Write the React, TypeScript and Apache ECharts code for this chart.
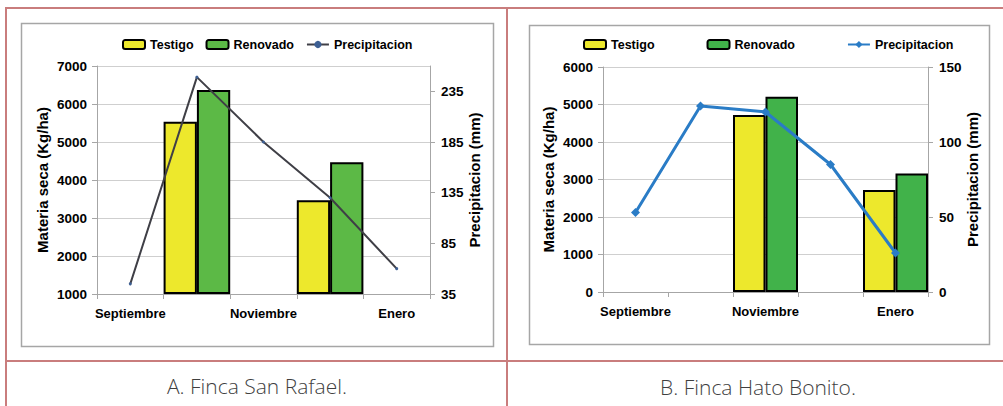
import { useEffect, useRef } from "react";
import * as echarts from "echarts";

// Months shown on both panels (labels appear on every other month)
const months = ["Septiembre", "Octubre", "Noviembre", "Diciembre", "Enero"];

// Panel A – Finca San Rafael
const rafaelTestigo = [null, 5530, null, 3470, null];
const rafaelRenovado = [null, 6370, null, 4470, null];
const rafaelPrecip = [45, 249, 185, 130, 60];
const rafaelPrecipTicks = [35, 85, 135, 185, 235];

// Panel B – Finca Hato Bonito
const bonitoTestigo = [null, null, 4720, null, 2720];
const bonitoRenovado = [null, null, 5210, null, 3160];
const bonitoPrecip = [53, 124, 120, 85, 26];

const captions = ["A. Finca San Rafael.", "B. Finca Hato Bonito."];

const FONT = "'Liberation Sans', Arial, sans-serif";
const YELLOW = "#ede82c";
const GREEN_A = "#5cb946";
const GREEN_B = "#41b24a";
const AXIS_GREY = "#a6a6a6";
const GRID_GREY = "#cfcfcf";
const TABLE_RED = "#c97d7d";

const tickLabel = { color: "#000", fontFamily: FONT, fontWeight: "bold" as const, fontSize: 13 };
const nameStyle = { color: "#000", fontFamily: FONT, fontWeight: "bold" as const, fontSize: 15 };
const plain = (v: number) => String(v);

function valueAxisLeft(grid: number, min: number, max: number) {
  return {
    type: "value",
    gridIndex: grid,
    min,
    max,
    interval: 1000,
    startValue: min,
    name: "Materia seca (Kg/ha)",
    nameLocation: "middle",
    nameRotate: 90,
    nameGap: 47,
    nameTextStyle: nameStyle,
    axisLine: { show: true, lineStyle: { color: AXIS_GREY, width: 1 } },
    axisTick: { show: true, inside: false, length: 5, lineStyle: { color: AXIS_GREY } },
    axisLabel: { ...tickLabel, fontSize: 13.5, margin: 10, formatter: plain },
    splitLine: { show: true, lineStyle: { color: GRID_GREY, width: 1 } },
  };
}

function categoryAxis(grid: number) {
  return {
    type: "category",
    gridIndex: grid,
    data: months,
    boundaryGap: true,
    axisLine: { show: true, lineStyle: { color: AXIS_GREY, width: 1 } },
    axisTick: { show: true, interval: 0, length: 5, alignWithLabel: false, lineStyle: { color: AXIS_GREY } },
    axisLabel: { ...tickLabel, interval: 1, margin: 13 },
    splitLine: { show: false },
  };
}

function barSeries(name: string, data: (number | null)[], color: string, axis: number) {
  return {
    type: "bar",
    name,
    xAxisIndex: axis,
    yAxisIndex: axis * 2,
    data,
    barGap: "0%",
    barCategoryGap: "0%",
    itemStyle: { color, borderColor: "#000", borderWidth: 2 },
    z: 2,
  };
}

const legendText = { color: "#000", fontFamily: FONT, fontWeight: "bold" as const, fontSize: 12.5 };

export default function App() {
  const ref = useRef<HTMLDivElement>(null);

  useEffect(() => {
    if (!ref.current) return;
    const chart = echarts.init(ref.current, null, { renderer: "svg" });

    const option = {
      animation: false,
      backgroundColor: "#fff",
      grid: [
        { left: 97, top: 66, width: 333, height: 228, containLabel: false },
        { left: 603, top: 67, width: 325, height: 225, containLabel: false },
      ],
      legend: [
        {
          left: 122,
          top: 38,
          padding: 0,
          itemWidth: 22,
          itemHeight: 9,
          itemGap: 12,
          data: ["Testigo|A", "Renovado|A", "Precipitacion|A"],
          formatter: (n: string) => n.split("|")[0],
          textStyle: legendText,
        },
        {
          left: 583,
          top: 38,
          padding: 0,
          itemWidth: 22,
          itemHeight: 9,
          itemGap: 52,
          data: ["Testigo|B", "Renovado|B", "Precipitacion|B"],
          formatter: (n: string) => n.split("|")[0],
          textStyle: legendText,
        },
      ],
      xAxis: [categoryAxis(0), categoryAxis(1)],
      yAxis: [
        valueAxisLeft(0, 1000, 7000),
        {
          type: "value",
          gridIndex: 0,
          position: "right",
          min: 35,
          max: 260,
          name: "Precipitacion (mm)",
          nameLocation: "middle",
          nameRotate: 90,
          nameGap: 36,
          nameTextStyle: nameStyle,
          axisLine: { show: true, lineStyle: { color: AXIS_GREY, width: 1 } },
          axisTick: { show: true, length: 5, customValues: rafaelPrecipTicks, lineStyle: { color: AXIS_GREY } },
          axisLabel: { ...tickLabel, fontSize: 13.5, margin: 11, customValues: rafaelPrecipTicks, formatter: plain },
          splitLine: { show: false },
        },
        valueAxisLeft(1, 0, 6000),
        {
          type: "value",
          gridIndex: 1,
          position: "right",
          min: 0,
          max: 150,
          interval: 50,
          name: "Precipitacion (mm)",
          nameLocation: "middle",
          nameRotate: 90,
          nameGap: 36,
          nameTextStyle: nameStyle,
          axisLine: { show: true, lineStyle: { color: AXIS_GREY, width: 1 } },
          axisTick: { show: true, length: 5, lineStyle: { color: AXIS_GREY } },
          axisLabel: { ...tickLabel, fontSize: 13.5, margin: 11, formatter: plain },
          splitLine: { show: false },
        },
      ],
      series: [
        barSeries("Testigo|A", rafaelTestigo, YELLOW, 0),
        barSeries("Renovado|A", rafaelRenovado, GREEN_A, 0),
        {
          type: "line",
          name: "Precipitacion|A",
          xAxisIndex: 0,
          yAxisIndex: 1,
          data: rafaelPrecip,
          symbol: "circle",
          symbolSize: 3,
          showAllSymbol: true,
          lineStyle: { color: "#3f3f46", width: 2 },
          itemStyle: { color: "#3d5f93" },
          z: 5,
        },
        barSeries("Testigo|B", bonitoTestigo, YELLOW, 1),
        barSeries("Renovado|B", bonitoRenovado, GREEN_B, 1),
        {
          type: "line",
          name: "Precipitacion|B",
          xAxisIndex: 1,
          yAxisIndex: 3,
          data: bonitoPrecip,
          symbol: "diamond",
          symbolSize: 9,
          showAllSymbol: true,
          lineStyle: { color: "#2a7cc6", width: 3 },
          itemStyle: { color: "#2a7cc6" },
          z: 5,
        },
      ],
      graphic: [
        // chart frames
        { type: "rect", z: -1, shape: { x: 21.5, y: 23.5, width: 472, height: 323 }, style: { fill: "none", stroke: AXIS_GREY, lineWidth: 1.5 } },
        { type: "rect", z: -1, shape: { x: 529.5, y: 25.5, width: 460, height: 319 }, style: { fill: "none", stroke: AXIS_GREY, lineWidth: 1.5 } },
        // table rules
        { type: "line", shape: { x1: 6, y1: 8, x2: 1003, y2: 8 }, style: { stroke: TABLE_RED, lineWidth: 2 } },
        { type: "line", shape: { x1: 6, y1: 361, x2: 1003, y2: 361 }, style: { stroke: TABLE_RED, lineWidth: 2 } },
        { type: "line", shape: { x1: 6, y1: 7, x2: 6, y2: 406 }, style: { stroke: TABLE_RED, lineWidth: 2 } },
        { type: "line", shape: { x1: 507, y1: 7, x2: 507, y2: 406 }, style: { stroke: TABLE_RED, lineWidth: 2 } },
        // captions
        {
          type: "text",
          x: 257,
          y: 386,
          style: { text: captions[0], fill: "#3f3f3f", font: "300 21px 'Open Sans', sans-serif", textAlign: "center", textVerticalAlign: "middle" },
        },
        {
          type: "text",
          x: 758,
          y: 387,
          style: { text: captions[1], fill: "#3f3f3f", font: "300 21px 'Open Sans', sans-serif", textAlign: "center", textVerticalAlign: "middle" },
        },
      ],
    };

    chart.setOption(option as any);
    return () => chart.dispose();
  }, []);

  return (
    <div
      ref={ref}
      style={{ position: "fixed", left: 0, top: 0, width: 1003, height: 406 }}
    />
  );
}
